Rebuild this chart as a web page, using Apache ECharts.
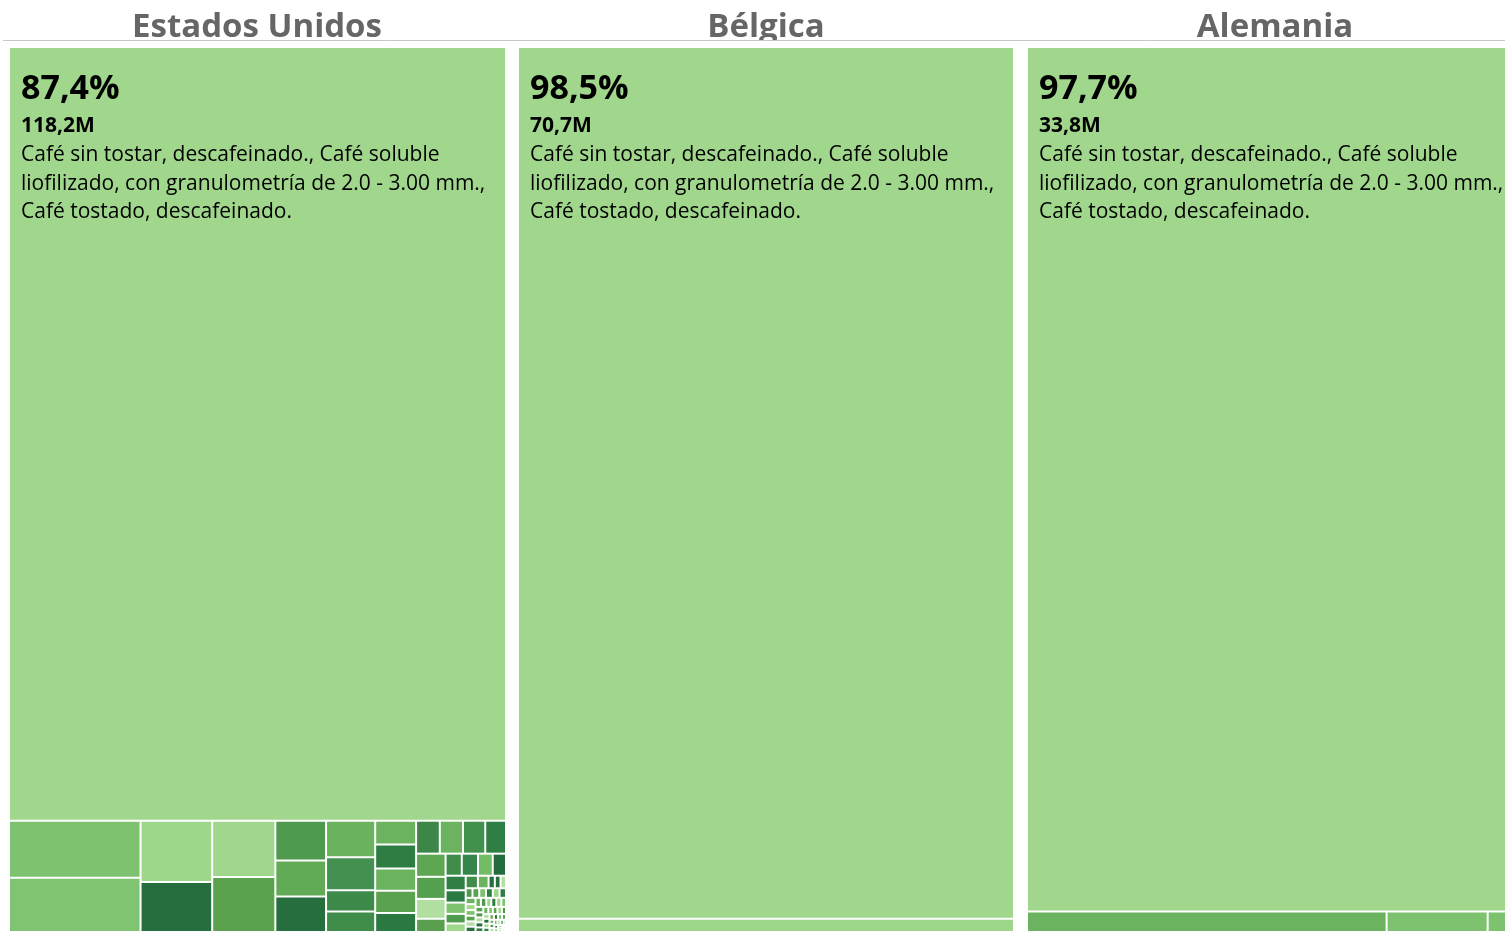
<!DOCTYPE html>
<html>
<head>
<meta charset="utf-8">
<script src="https://cdn.jsdelivr.net/npm/echarts@6/dist/echarts.min.js"></script>
<style>
  html, body { margin: 0; padding: 0; background: #fff; overflow: hidden; }
  #main { width: 1530px; height: 931px; }
</style>
</head>
<body>
<div id="main"></div>
<script>
// países y texto del producto principal
const countries = ['Estados Unidos', 'Bélgica', 'Alemania'];
const mainProduct = [
    'Café sin tostar, descafeinado., Café soluble',
    'liofilizado, con granulometría de 2.0 - 3.00 mm.,',
    'Café tostado, descafeinado.'
];

// valores en millones (el primero es el producto principal)
const usValues = [118.2,
    2.31, 2.19, 1.35, 1.10, 1.09, 1.07, 0.62, 0.56, 0.555, 0.55, 0.50, 0.32, 0.31,
    0.30, 0.30, 0.28, 0.28, 0.24, 0.24, 0.235, 0.225, 0.21, 0.21, 0.20, 0.18,
    0.12, 0.11, 0.11, 0.10, 0.09, 0.09, 0.076, 0.070, 0.059, 0.053, 0.047,
    0.041, 0.024, 0.02, 0.02, 0.02, 0.02, 0.014,
    0.022, 0.021, 0.020, 0.019, 0.019, 0.018, 0.017, 0.017, 0.016, 0.016,
    0.015, 0.015, 0.014, 0.014, 0.013, 0.013, 0.012, 0.012, 0.012, 0.011,
    0.011, 0.010, 0.010, 0.010, 0.009, 0.009, 0.009, 0.008, 0.008, 0.008,
    0.007, 0.007, 0.007, 0.006, 0.006, 0.006, 0.005, 0.005, 0.005, 0.004,
    0.004, 0.004, 0.003, 0.003, 0.003, 0.002, 0.002, 0.002, 0.001, 0.001];
const beValues = [70.7, 1.07];
const deValues = [33.8, 0.58, 0.163, 0.057];

// colores de cada rectángulo
const usColors = ['#a0d78d',
    '#7dc26f', '#80c472', '#9dd88a', '#276e3e', '#a0d78d', '#5ba24f', '#4f9a4f',
    '#62ab56', '#276e3e', '#6bb25f', '#449050', '#3d8a4a', '#3f8c4b', '#2e7d43',
    '#6bb35f', '#5aa150', '#6bb35f', '#3c8748', '#2b7942', '#6bb35f', '#41904c',
    '#5ea752', '#2f7f44', '#55a04f', '#b0dfa0', '#5a9f4e', '#35844a', '#3f8c4b',
    '#74bb66', '#2f7f44', '#256c3c', '#2b7942', '#7dc26f', '#4f9a4f', '#a0d78d',
    '#3f8c4b', '#6bb35f', '#276e3e', '#a0d78d', '#2e7d43', '#7dc26f', '#5ba24f',
    '#a0d78d'];
const tailColors = ['#2e7d43', '#a0d78d', '#5ba24f', '#7dc26f', '#276e3e', '#b0dfa0', '#4f9a4f', '#6bb35f'];
const beColors = ['#a0d78d', '#9dd88a'];
const deColors = ['#a0d78d', '#6bb35f', '#7dc26f', '#7dc26f'];

// posición de cada panel
const panelLeft = [8, 517, 1026];
const panelWidth = [499, 498, 498];

function fmt(v, d) {
    return v.toFixed(d).replace('.', ',');
}

function buildData(values, colors) {
    let total = values.reduce((a, b) => a + b, 0);
    return values.map(function (v, i) {
        let item = {
            name: 'p' + i,
            value: v,
            itemStyle: {color: colors[i] || tailColors[i % tailColors.length]}
        };
        if (i === 0) {
            item.label = {
                show: true,
                position: 'insideTopLeft',
                padding: [19, 0, 0, 11],
                overflow: 'none',
                formatter: '{pct|' + fmt(v / total * 100, 1) + '%}\n{val|' + fmt(v, 1) + 'M}\n'
                    + mainProduct.map(t => '{txt|' + t + '}').join('\n'),
                rich: {
                    pct: {fontFamily: 'Open Sans', fontWeight: 'bold', fontSize: 34, color: '#000', lineHeight: 44},
                    val: {fontFamily: 'Open Sans', fontWeight: 'bold', fontSize: 21, color: '#000', lineHeight: 30},
                    txt: {fontFamily: 'Open Sans', fontSize: 21, color: '#000', lineHeight: 28.5}
                }
            };
        }
        return item;
    });
}

const chart = echarts.init(document.getElementById('main'));

const allValues = [usValues, beValues, deValues];
const allColors = [usColors, beColors, deColors];

option = {
    animation: false,
    title: countries.map(function (c, i) {
        return {
            text: c,
            left: panelLeft[i] + 244,
            top: 6,
            textAlign: 'center',
            textStyle: {fontFamily: 'Open Sans', fontWeight: 'bold', fontSize: 33, color: '#666'}
        };
    }),
    graphic: [
        {type: 'rect', z: 100, shape: {x: 0, y: 40, width: 1530, height: 7.5}, style: {fill: '#fff'}},
        {type: 'line', z: 101, shape: {x1: 3, y1: 40.5, x2: 1530, y2: 40.5}, style: {stroke: '#c8c8c8', lineWidth: 1}}
    ],
    series: allValues.map(function (vals, i) {
        return {
            type: 'treemap',
            left: panelLeft[i],
            top: 46,
            width: panelWidth[i],
            height: 887,
            roam: false,
            nodeClick: false,
            breadcrumb: {show: false},
            visibleMin: 1,
            label: {show: false},
            upperLabel: {show: false},
            emphasis: {disabled: true},
            itemStyle: {borderColor: '#fff', borderWidth: 1, gapWidth: 0},
            data: buildData(vals, allColors[i])
        };
    })
};

chart.setOption(option);
</script>
</body>
</html>
